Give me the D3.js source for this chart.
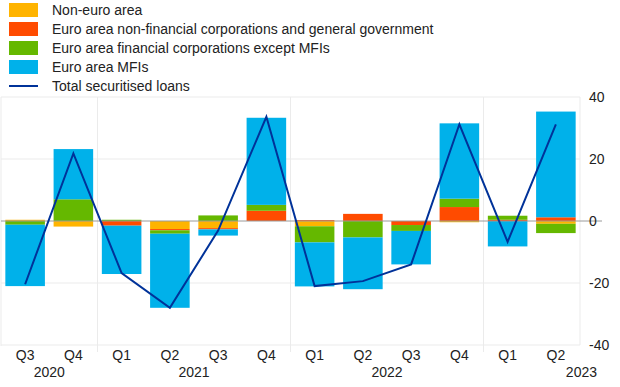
<!DOCTYPE html>
<html>
  <head>
    <meta charset="UTF-8" />
    <style>
      body { margin: 0; background: #fff; }
      svg text { font-family: "Liberation Sans", Arial, sans-serif; fill: #222; }
    </style>
  </head>
  <body>
    <svg id="chart" width="620" height="387"></svg>
    <script src="https://d3js.org/d3.v7.min.js"></script>
    <script>
      // chart data
      var quarters = ["Q3", "Q4", "Q1", "Q2", "Q3", "Q4", "Q1", "Q2", "Q3", "Q4", "Q1", "Q2"];
      var years = ["2020", "2020", "2021", "2021", "2021", "2021", "2022", "2022", "2022", "2022", "2023", "2023"];
      var nonEuro = [0.4, -1.8, 0, -2.6, -2.3, 0, -1.7, 0, 0, -0.4, 0, -0.9];
      var eaNfc = [0, 0, -1.5, -0.4, -0.4, 3.3, 0.3, 2.3, -1.3, 4.5, 0.4, 1.2];
      var eaFc = [-1.2, 7.0, 0.4, -1.1, 1.8, 1.9, -5.2, -5.3, -1.9, 2.7, 1.3, -3.0];
      var eaMfi = [-19.8, 16.2, -15.6, -23.9, -2.0, 28.1, -14.2, -16.7, -10.8, 24.3, -8.2, 34.1];
      var total = [-20.4, 21.8, -16.8, -28.0, -3.1, 33.6, -21.0, -19.4, -14.0, 31.2, -6.7, 31.2];
      var yTicks = [-40, -20, 0, 20, 40];

      var seriesNames = [
        "Non-euro area",
        "Euro area non-financial corporations and general government",
        "Euro area financial corporations except MFIs",
        "Euro area MFIs"
      ];
      var lineName = "Total securitised loans";
      var colours = ["#ffb400", "#ff4b00", "#65b800", "#00b1ea"];
      var lineColour = "#003299";

      var svg = d3.select("#chart");
      var plotLeft = 1, plotRight = 580, plotTop = 97, plotBottom = 345;

      var ids = quarters.map(function (q, i) { return i; });
      var x = d3.scaleBand().domain(ids).range([plotLeft, plotRight]).paddingInner(0.18).paddingOuter(0.09);
      var y = d3.scaleLinear().domain([-40, 40]).range([plotBottom, plotTop]);

      // table for the stack
      var keys = ["nonEuro", "eaNfc", "eaFc", "eaMfi"];
      var table = ids.map(function (i) {
        return { id: i, nonEuro: nonEuro[i], eaNfc: eaNfc[i], eaFc: eaFc[i], eaMfi: eaMfi[i] };
      });
      var stacked = d3.stack().keys(keys).offset(d3.stackOffsetDiverging)(table);

      // grid
      var grid = svg.append("g");
      grid.selectAll("line.h")
        .data(yTicks.filter(function (t) { return t !== 0; }))
        .enter().append("line")
        .attr("x1", plotLeft).attr("x2", plotRight)
        .attr("y1", function (d) { return y(d); }).attr("y2", function (d) { return y(d); })
        .attr("stroke", "#ebebeb").attr("stroke-width", 1);

      // year boundaries
      var bounds = [0];
      ids.forEach(function (i) { if (i > 0 && years[i] !== years[i - 1]) bounds.push(i); });
      grid.selectAll("line.v")
        .data(bounds)
        .enter().append("line")
        .attr("x1", function (d) { return x(d) - x.step() * x.paddingInner() / 2; })
        .attr("x2", function (d) { return x(d) - x.step() * x.paddingInner() / 2; })
        .attr("y1", plotTop).attr("y2", function (d) { return d === 0 ? plotBottom + 1 : plotBottom + 7; })
        .attr("stroke", "#ebebeb").attr("stroke-width", 1);
      grid.append("line")
        .attr("x1", plotRight).attr("x2", plotRight).attr("y1", plotTop).attr("y2", plotBottom)
        .attr("stroke", "#ebebeb");

      // bars
      svg.append("g").selectAll("g")
        .data(stacked)
        .enter().append("g")
        .attr("fill", function (d, k) { return colours[k]; })
        .selectAll("rect")
        .data(function (d) { return d; })
        .enter().append("rect")
        .attr("x", function (d) { return x(d.data.id); })
        .attr("width", x.bandwidth())
        .attr("y", function (d) { return y(Math.max(d[0], d[1])); })
        .attr("height", function (d) { return Math.abs(y(d[0]) - y(d[1])); });

      // zero line
      svg.append("line")
        .attr("x1", plotLeft).attr("x2", plotRight + 22)
        .attr("y1", y(0)).attr("y2", y(0))
        .attr("stroke", "#9a9a9a").attr("stroke-width", 1);

      // total line
      var line = d3.line()
        .x(function (d, i) { return x(i) + x.bandwidth() / 2; })
        .y(function (d) { return y(d); });
      svg.append("path")
        .datum(total)
        .attr("d", line)
        .attr("fill", "none")
        .attr("stroke", lineColour)
        .attr("stroke-width", 2);

      // right axis labels
      svg.append("g").selectAll("text")
        .data(yTicks)
        .enter().append("text")
        .attr("x", 589)
        .attr("y", function (d) { return y(d) + 5; })
        .attr("font-size", 14)
        .text(function (d) { return d; });

      // x labels
      svg.append("g").selectAll("text")
        .data(quarters)
        .enter().append("text")
        .attr("x", function (d, i) { return x(i) + x.bandwidth() / 2; })
        .attr("y", 360)
        .attr("text-anchor", "middle")
        .attr("font-size", 14)
        .text(function (d) { return d; });

      var yearGroups = d3.groups(ids, function (i) { return years[i]; });
      svg.append("g").selectAll("text")
        .data(yearGroups)
        .enter().append("text")
        .attr("x", function (g, j) {
          var idx = g[1];
          if (j === yearGroups.length - 1) return 597; // last year sits at the right edge
          return (x(idx[0]) + x(idx[idx.length - 1]) + x.bandwidth()) / 2;
        })
        .attr("y", 377)
        .attr("text-anchor", function (g, j) { return j === yearGroups.length - 1 ? "end" : "middle"; })
        .attr("font-size", 14)
        .text(function (g) { return g[0]; });

      // legend
      var legend = svg.append("g").attr("transform", "translate(9,3)");
      seriesNames.forEach(function (name, k) {
        var row = legend.append("g").attr("transform", "translate(0," + k * 19 + ")");
        row.append("rect").attr("width", 29).attr("height", 14).attr("fill", colours[k]);
        row.append("text").attr("x", 43).attr("y", 12).attr("font-size", 14).text(name);
      });
      var lrow = legend.append("g").attr("transform", "translate(0," + 4 * 19 + ")");
      lrow.append("line").attr("x1", 0).attr("x2", 29).attr("y1", 7).attr("y2", 7)
        .attr("stroke", lineColour).attr("stroke-width", 2);
      lrow.append("text").attr("x", 43).attr("y", 12).attr("font-size", 14).text(lineName);
    </script>
  </body>
</html>
